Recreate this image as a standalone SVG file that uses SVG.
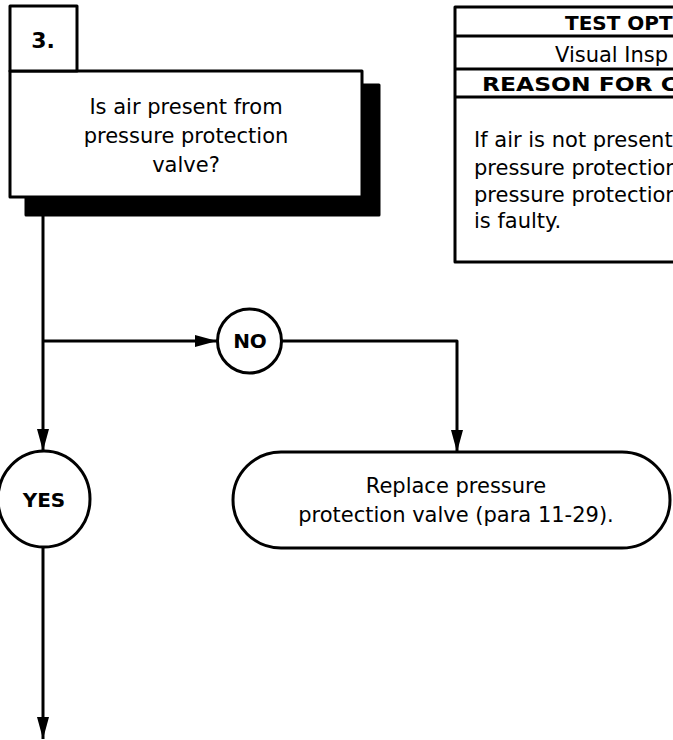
<svg xmlns="http://www.w3.org/2000/svg" width="673" height="740" viewBox="0 0 673 740">
<style>
.ln{fill:none;stroke:#000;stroke-width:3;stroke-linejoin:round}
.box{fill:#fff;stroke:#000;stroke-width:3;stroke-linejoin:round}
.t{font-family:"DejaVu Sans",Verdana,sans-serif;font-size:21px;fill:#000}
.b{font-family:"DejaVu Sans",Verdana,sans-serif;font-size:20px;font-weight:bold;fill:#000}
.c{text-anchor:middle}
</style>
<defs>
<marker id="ah" markerUnits="userSpaceOnUse" markerWidth="22" markerHeight="12" refX="22" refY="6" orient="auto">
<path d="M0,0 L22,6 L0,12 z" fill="#000"/>
</marker>
</defs>
<rect width="673" height="740" fill="#fff"/>
<g id="step3">
<rect x="26" y="85" width="353" height="130" fill="#000" stroke="#000" stroke-width="3" stroke-linejoin="round"/>
<rect class="box" x="10" y="71" width="352" height="126"/>
<rect class="box" x="10" y="6" width="67" height="65"/>
<text class="b c" x="43" y="48" style="font-size:22px">3.</text>
<text class="t c" x="186" y="114">Is air present from</text>
<text class="t c" x="186" y="143">pressure protection</text>
<text class="t c" x="186" y="172">valve?</text>
</g>
<g id="table">
<rect class="box" x="455" y="7" width="240" height="255"/>
<line class="ln" x1="455" y1="36" x2="673" y2="36"/>
<line class="ln" x1="455" y1="69" x2="673" y2="69"/>
<line class="ln" x1="455" y1="97" x2="673" y2="97"/>
<text class="b" x="565" y="30">TEST OPT</text>
<text class="t" x="555" y="62">Visual Insp</text>
<text class="b" x="482" y="91" textLength="196" lengthAdjust="spacingAndGlyphs">REASON FOR C</text>
<text class="t" x="474" y="147">If air is not present</text>
<text class="t" x="474" y="175">pressure protection</text>
<text class="t" x="474" y="202">pressure protection</text>
<text class="t" x="474" y="228">is faulty.</text>
</g>
<g id="no">
<circle class="box" cx="249.5" cy="341" r="32"/>
<text class="b c" x="250" y="348">NO</text>
</g>
<g id="yes">
<ellipse class="box" cx="44" cy="499" rx="46" ry="48"/>
<text class="b c" x="44" y="507">YES</text>
</g>
<g id="replace">
<rect class="box" x="233" y="452" width="437" height="96" rx="48" ry="48"/>
<text class="t c" x="456" y="493">Replace pressure</text>
<text class="t c" x="456" y="522">protection valve (para 11-29).</text>
</g>
<g id="connectors">
<line class="ln" x1="43" y1="215" x2="43" y2="451" marker-end="url(#ah)"/>
<line class="ln" x1="43" y1="341" x2="217" y2="341" marker-end="url(#ah)"/>
<polyline class="ln" points="282,341 457,341 457,452" marker-end="url(#ah)"/>
<line class="ln" x1="43" y1="547" x2="43" y2="739" marker-end="url(#ah)"/>
</g>
</svg>
